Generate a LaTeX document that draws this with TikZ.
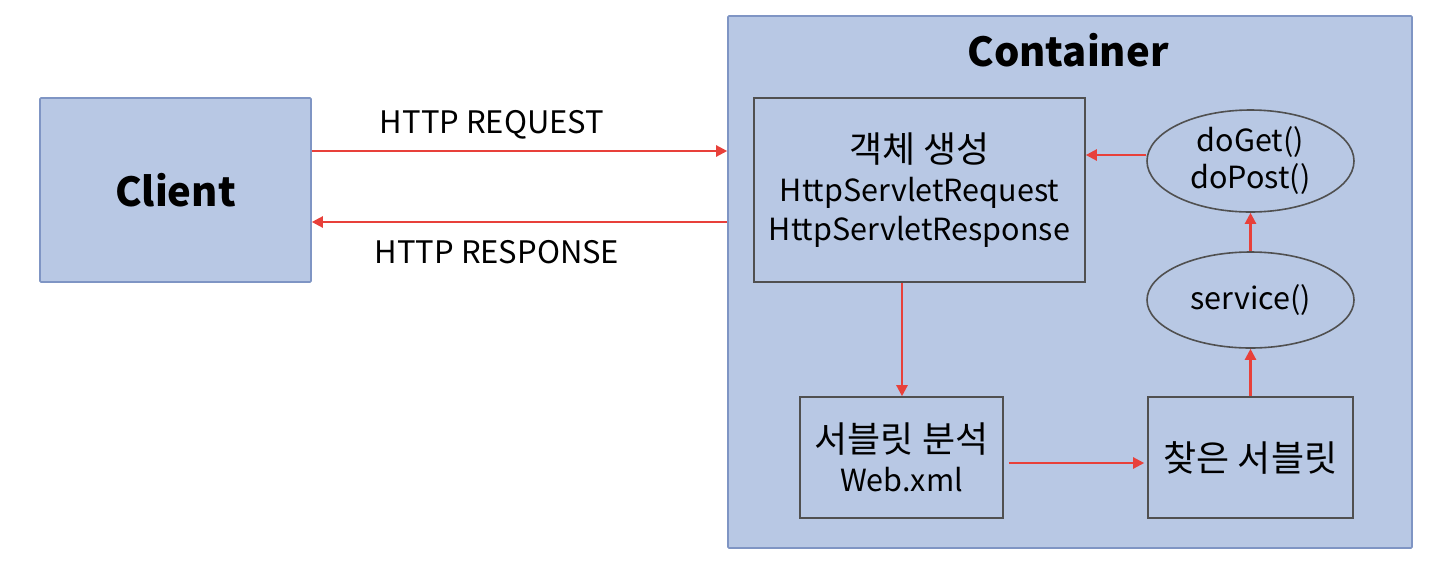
\documentclass[tikz,border=0pt]{standalone}
\usepackage{fontspec}
\setmainfont{Noto Sans CJK KR}
\newfontfamily\kr[Scale=1.18]{Noto Sans CJK KR}
\usetikzlibrary{arrows.meta,shapes.geometric}
\definecolor{boxblue}{HTML}{B8C8E4}
\definecolor{boxedge}{HTML}{7F95C4}
\definecolor{inner}{HTML}{505050}
\definecolor{arr}{HTML}{E8403A}
\tikzset{
  outerbox/.style={draw=boxedge, fill=boxblue, line width=1.6pt, rounded corners=1pt, inner sep=0pt},
  innerbox/.style={draw=inner, fill=boxblue, line width=1.6pt, inner sep=0pt, align=center, font=\fontsize{30.5}{39}\selectfont},
  oval/.style={draw=inner, fill=boxblue, line width=1.6pt, ellipse, inner sep=0pt, align=center, font=\fontsize{30.5}{37}\selectfont},
  conn/.style={draw=arr, line width=2.3pt, -{Triangle[length=11pt,width=11pt]}},
  lab/.style={font=\fontsize{31}{36}\selectfont, inner sep=0pt},
}
\begin{document}
\begin{tikzpicture}[x=1pt,y=-1pt]
\useasboundingbox[fill=white] (0,0) rectangle (1446,582);
% outer boxes
\node[outerbox, minimum width=271pt, minimum height=184pt] (client) at (175.5,190) {\fontsize{40}{48}\selectfont\bfseries Client};
\node[outerbox, minimum width=684pt, minimum height=532pt] (container) at (1070,282) {};
\node[font=\fontsize{40}{46}\selectfont\bfseries, inner sep=0pt] (ctitle) at (1068,50) {Container};
% inner boxes
\node[innerbox, minimum width=331pt, minimum height=184pt] (create) at (919.5,190) {{\kr 객체 생성}\\HttpServletRequest\\HttpServletResponse};
\node[innerbox, minimum width=203pt, minimum height=121pt] (parse) at (901.5,457.5) {{\kr 서블릿 분석}\\Web.xml};
\node[innerbox, minimum width=205pt, minimum height=121pt] (found) at (1250.5,457.5) {{\kr 찾은 서블릿}};
\node[oval, minimum width=207pt, minimum height=102pt] (doget) at (1250.5,161) {doGet()\\doPost()};
\node[oval, minimum width=207pt, minimum height=96pt] (service) at (1250.5,300) {service()};
% labels
\node[lab] (req) at (492,125) {HTTP REQUEST};
\node[lab] (resp) at (497,252) {HTTP RESPONSE};
% connectors
\draw[conn] (client.east |- 0,151) -- (container.west |- 0,151);
\draw[conn] (container.west |- 0,222) -- (client.east |- 0,222);
\draw[conn] (doget.west |- 0,155) -- (create.east |- 0,155);
\draw[conn] (create.south -| 902,0) -- (parse.north -| 902,0);
\draw[conn, shorten <=5pt, shorten >=3pt] (parse.east |- 0,463) -- (found.west |- 0,463);
\draw[conn] (found.north) -- (service.south);
\draw[conn] (service.north) -- (doget.south);
\end{tikzpicture}
\end{document}
